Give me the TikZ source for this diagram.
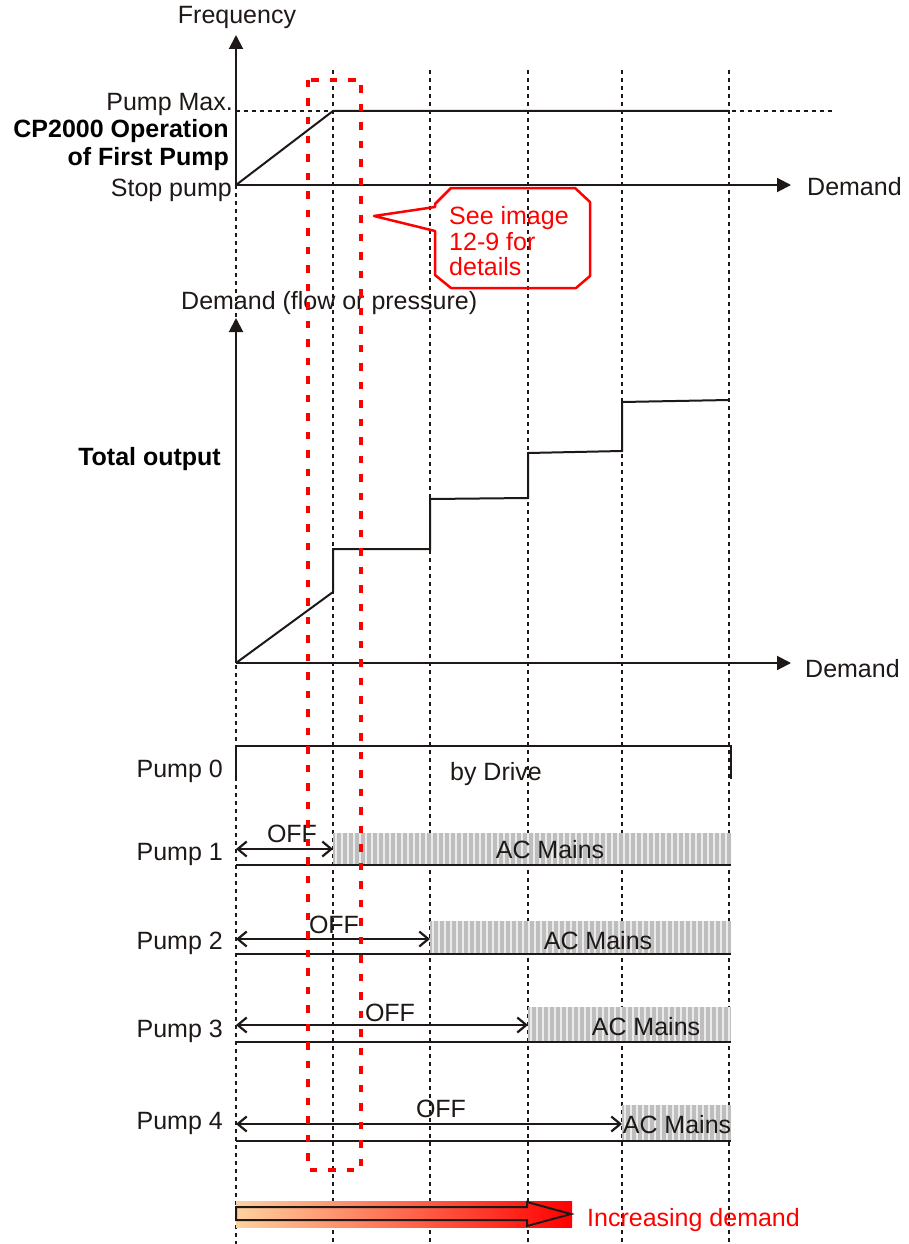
\documentclass[tikz,border=0pt]{standalone}
\usepackage{fontspec}
\setmainfont{Liberation Sans}
\usetikzlibrary{arrows.meta}
\definecolor{cred}{RGB}{255,0,0}
\definecolor{peach}{RGB}{254,210,158}
\definecolor{hatch}{RGB}{190,190,190}
\definecolor{stripe}{RGB}{235,235,235}
\definecolor{ink}{RGB}{30,24,22}
\tikzset{
  txt/.style={font=\fontsize{25}{30}\selectfont, inner sep=0pt, text=ink},
  btxt/.style={font=\fontsize{25}{30}\selectfont\bfseries, inner sep=0pt},
  rtxt/.style={font=\fontsize{25}{30}\selectfont, inner sep=0pt, text=cred},
  guide/.style={line width=2pt, dash pattern=on 4pt off 4pt, ink},
  solidline/.style={line width=2pt, ink},
  axisarrow/.style={line width=2pt, ink, -{Triangle[length=14pt,width=14pt]}},
  dbl/.style={line width=2.2pt, ink, {Straight Barb[length=9pt,width=15pt]}-{Straight Barb[length=9pt,width=15pt]}},
  redbox/.style={cred, line width=4pt, dash pattern=on 7.5pt off 11pt},
}
\newcommand{\mainsbar}[4]{%
  \begin{scope}
    \clip (#1,#2) rectangle (#3,#4);
    \fill[hatch] (#1,#2) rectangle (#3,#4);
    \foreach \i in {0,...,70} {
      \draw[stripe, line width=1.2pt] ({#1+3+6*\i},#2) -- ({#1+3+6*\i},#4);
    }
  \end{scope}}
\begin{document}
\begin{tikzpicture}[x=1pt,y=-1pt]
\useasboundingbox (0,0) rectangle (908,1244);
\fill[white] (0,0) rectangle (908,1244);

% vertical guides
\draw[guide] (236,185) -- (236,1244);
\foreach \gx in {333,430,528,622,729} {
  \draw[guide] (\gx,70) -- (\gx,1244);
}

% ---------- top chart ----------
\coordinate (o1) at (236,185);
\coordinate (f1) at (236,35);
\coordinate (d1) at (791,185);
\coordinate (pm1) at (236,111);
\coordinate (pm2) at (834,111);
\coordinate (r1) at (333,111);
\coordinate (r2) at (729,111);
\draw[guide] (pm1) -- (pm2);
\draw[axisarrow] (o1) -- (f1);
\draw[axisarrow] (o1) -- (d1);
\draw[solidline] (o1) -- (r1) -- (r2);

\node[txt, anchor=base] (freq) at (237,24) {Frequency};
\node[txt, anchor=base east] (pmax) at (233,111) {Pump Max.};
\node[btxt, anchor=base east] (cp1) at (229,138) {CP2000 Operation};
\node[btxt, anchor=base east] (cp2) at (229,165) {of First Pump};
\node[txt, anchor=base east] (stop) at (232,196) {Stop pump};
\node[txt, anchor=base west] (dem1) at (807,195) {Demand};

% callout
\draw[cred, line width=2.5pt, line join=round]
  (435,204) -- (451,188) -- (575,188) -- (590,202) -- (590,276) -- (576,288)
  -- (451,288) -- (435,275) -- (435,231) -- (374,216) -- (435,207) -- cycle;
\node[rtxt, anchor=base west] (see1) at (449,224) {See image};
\node[rtxt, anchor=base west] (see2) at (449,250) {12-9 for};
\node[rtxt, anchor=base west] (see3) at (449,275) {details};

% ---------- second chart ----------
\coordinate (o2) at (236,663);
\coordinate (f2) at (236,318);
\coordinate (d2) at (791,663);
\draw[axisarrow] (o2) -- (f2);
\draw[axisarrow] (o2) -- (d2);
\draw[solidline, line join=miter]
  (o2) -- (333,592) -- (333,549) -- (430,549) -- (430,499) -- (528,498)
  -- (528,453) -- (622,451) -- (622,402) -- (729,400);
\node[txt, anchor=base west] (dfp) at (181,309) {Demand (flow or pressure)};
\node[btxt, anchor=base east] (tot) at (221,465) {Total output};
\node[txt, anchor=base west] (dem2) at (805,677) {Demand};

% ---------- pumps ----------
\draw[solidline] (236,779) -- (236,746) -- (731,746) -- (731,779);
\node[txt, anchor=base east] (p0) at (223,777) {Pump 0};
\node[txt, anchor=base] (drive) at (496,780) {by Drive};

\mainsbar{333}{833}{731}{865}
\mainsbar{430}{921}{731}{954}
\mainsbar{528}{1007}{731}{1042}
\mainsbar{622}{1105}{731}{1141}

\draw[solidline] (236,865) -- (731,865);
\draw[solidline] (236,954) -- (731,954);
\draw[solidline] (236,1042) -- (731,1042);
\draw[solidline] (236,1141) -- (731,1141);

\coordinate (a1l) at (236,849);  \coordinate (a1r) at (333,849);
\coordinate (a2l) at (236,939);  \coordinate (a2r) at (430,939);
\coordinate (a3l) at (236,1025); \coordinate (a3r) at (528,1025);
\coordinate (a4l) at (236,1124); \coordinate (a4r) at (622,1124);
\draw[dbl] (a1l) -- (a1r);
\draw[dbl] (a2l) -- (a2r);
\draw[dbl] (a3l) -- (a3r);
\draw[dbl] (a4l) -- (a4r);

\node[txt, anchor=base east] (p1) at (223,860) {Pump 1};
\node[txt, anchor=base east] (p2) at (223,949) {Pump 2};
\node[txt, anchor=base east] (p3) at (223,1037) {Pump 3};
\node[txt, anchor=base east] (p4) at (223,1129) {Pump 4};

\node[txt, anchor=base] (off1) at (292,842) {OFF};
\node[txt, anchor=base] (off2) at (334,933) {OFF};
\node[txt, anchor=base] (off3) at (390,1021) {OFF};
\node[txt, anchor=base] (off4) at (441,1117) {OFF};

\node[txt, anchor=base] (ac1) at (550,858) {AC Mains};
\node[txt, anchor=base] (ac2) at (598,949) {AC Mains};
\node[txt, anchor=base] (ac3) at (646,1035) {AC Mains};
\node[txt, anchor=base] (ac4) at (677,1133) {AC Mains};

% ---------- increasing demand ----------
\shade[left color=peach, right color=cred] (236,1201) rectangle (572,1227);
\draw[line width=2pt, ink, line join=miter]
  (236,1207) -- (527,1207) -- (527,1202) -- (571,1214) -- (527,1226)
  -- (527,1220) -- (236,1220) -- cycle;
\node[rtxt, anchor=base west] (inc) at (587,1226) {Increasing demand};

% red dashed highlight
\draw[redbox] (308,80) rectangle (361,1170);
\end{tikzpicture}
\end{document}
